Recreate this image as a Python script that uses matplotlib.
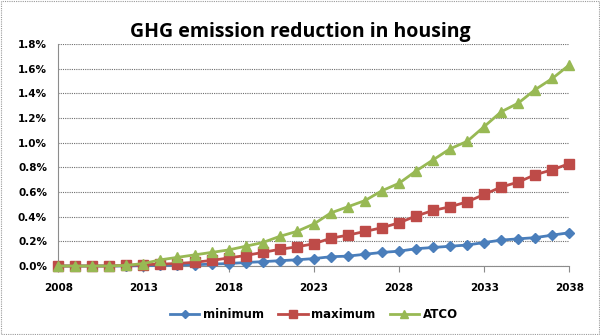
import matplotlib
matplotlib.use("Agg")
from matplotlib import pyplot as plt
from matplotlib.ticker import FuncFormatter, MultipleLocator
from matplotlib.patches import Rectangle

years = list(range(2008, 2039))

minimum = [0, 0, 0, 0, 0, 0.003, 0.005, 0.008, 0.01, 0.015, 0.02, 0.028, 0.035, 0.043, 0.05, 0.06,
           0.075, 0.08, 0.095, 0.11, 0.12, 0.14, 0.15, 0.16, 0.17, 0.19, 0.21, 0.22, 0.23, 0.25, 0.27]
maximum = [0, 0, 0, 0, 0.005, 0.01, 0.015, 0.02, 0.03, 0.045, 0.065, 0.085, 0.11, 0.135, 0.155, 0.18,
           0.225, 0.25, 0.28, 0.31, 0.35, 0.405, 0.45, 0.48, 0.52, 0.58, 0.64, 0.68, 0.74, 0.78, 0.83]
atco = [0, 0, 0, 0, 0.005, 0.02, 0.05, 0.07, 0.09, 0.11, 0.13, 0.16, 0.19, 0.24, 0.28, 0.34,
        0.43, 0.48, 0.53, 0.61, 0.67, 0.77, 0.86, 0.95, 1.01, 1.13, 1.25, 1.32, 1.43, 1.52, 1.63]

fig = plt.figure(figsize=(6, 3.35), dpi=100)
ax = fig.add_axes([0.097, 0.206, 0.852, 0.663])

ax.plot(years, minimum, c='#4A7EBB', marker='D', ms=5.5, lw=2, label='minimum', clip_on=False, zorder=3)
ax.plot(years, maximum, c='#BE4B48', marker='s', ms=6.5, lw=2, label='maximum', clip_on=False, zorder=3)
ax.plot(years, atco, c='#98B954', marker='^', ms=7, lw=2, label='ATCO', clip_on=False, zorder=3)

ax.set_xlim(2008, 2038)
ax.set_ylim(0, 1.8)
ax.yaxis.set_major_locator(MultipleLocator(0.2))
ax.yaxis.set_major_formatter(FuncFormatter(lambda v, p: '%.1f%%' % v))
ax.set_xticks(years[::5])
ax.grid(axis='y', color='#6E6E6E', lw=0.8, ls=(0, (1, 1)))
ax.set_axisbelow(True)
for s in ['top', 'right']:
    ax.spines[s].set_visible(False)
for s in ['left', 'bottom']:
    ax.spines[s].set_color('#8C8C8C')
ax.tick_params(axis='y', length=0, pad=8)
ax.tick_params(axis='x', length=4, color='#8C8C8C', pad=8)
for lab in ax.get_xticklabels() + ax.get_yticklabels():
    lab.set_fontweight('bold')
    lab.set_fontsize(7.5)
    lab.set_family('DejaVu Sans')

fig.text(0.5, 0.89, 'GHG emission reduction in housing', ha='center', fontsize=14,
         fontweight='bold', family='Open Sans')

ax.legend(loc='upper center', bbox_to_anchor=(0.5, -0.14), ncol=3, frameon=False,
          prop={'weight': 'bold', 'size': 8.5}, handlelength=2.5, handletextpad=0.3,
          columnspacing=1.2, markerscale=0.8)

fig.patches.append(Rectangle((0.002, 0.003), 0.996, 0.994, transform=fig.transFigure,
                             fill=False, ec='#9A9A9A', lw=0.8, ls=(0, (1, 1))))

plt.savefig('out.png', dpi=100)
